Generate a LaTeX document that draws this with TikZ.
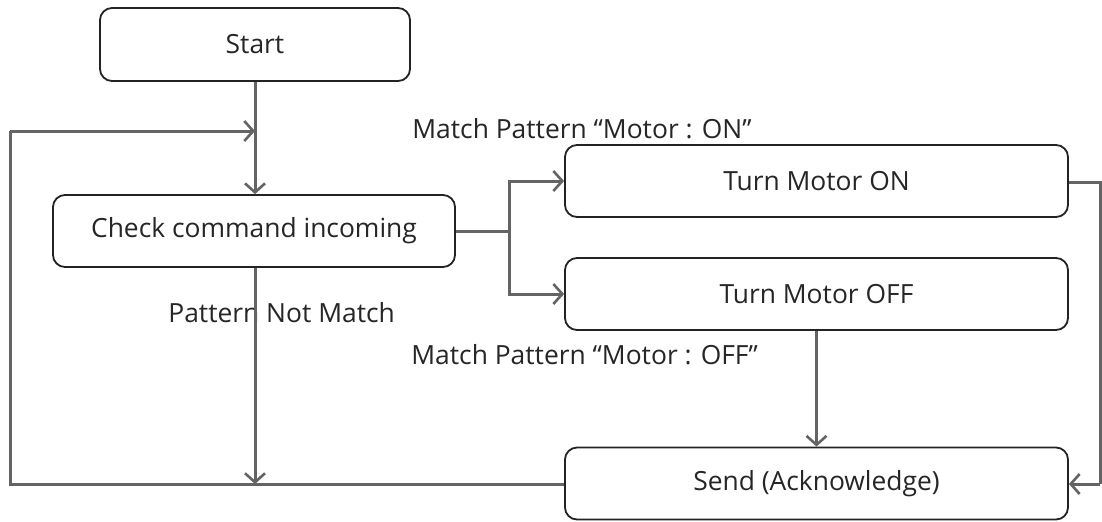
\documentclass[tikz,border=0pt]{standalone}
\usepackage{fontspec}
\setmainfont{Open Sans}
\usetikzlibrary{arrows.meta}
\definecolor{linegray}{RGB}{100,100,100}
\definecolor{boxline}{RGB}{35,35,35}
\begin{document}
\begin{tikzpicture}[x=0.5pt,y=-0.5pt,
  box/.style={draw=boxline,line width=0.9pt,rounded corners=6pt,inner sep=0pt,
    font=\fontsize{13.2pt}{15pt}\selectfont,text=black!85},
  lbl/.style={inner sep=0pt,font=\fontsize{13.2pt}{15pt}\selectfont,text=black!85},
  conn/.style={draw=linegray,line width=1.5pt},
  arr/.style={conn,-{Straight Barb[length=4.5pt,width=10pt,line width=1.3pt]}}]
\useasboundingbox (0,0) rectangle (1102,521);
\fill[white] (0,0) rectangle (1102,521);
% boxes
\node[box,minimum width=155pt,minimum height=36.5pt] (start) at (255,44.5) {Start};
\node[box,minimum width=201pt,minimum height=36pt] (check) at (254,231) {Check command incoming};
\node[box,minimum width=251.5pt,minimum height=36pt] (on) at (816.5,181) {Turn Motor ON};
\node[box,minimum width=251.5pt,minimum height=36pt] (off) at (816.5,294) {Turn Motor OFF};
\node[box,minimum width=251.5pt,minimum height=36pt] (send) at (816.5,483.5) {Send (Acknowledge)};
% labels
\node[lbl,anchor=west] (lon) at (412,129) {Match Pattern “Motor : ON”};
\node[lbl,anchor=west] (lnm) at (168,313) {Pattern Not Match};
\node[lbl,anchor=west] (loff) at (411,355) {Match Pattern “Motor : OFF”};
% coordinates
\coordinate (merge) at (255,131);
\coordinate (jn) at (509,231);
\coordinate (bl) at (10,484);
\coordinate (tl) at (10,131);
\coordinate (bot) at (255,484);
\coordinate (rt) at (1100,182);
\coordinate (rb) at (1100,484);
% connectors
\draw[arr] (start.south -| merge) -- (check.north -| merge);
\draw[conn] (send.west |- bl) -- (bl) -- (tl);
\draw[arr] (tl) -- (merge);
\draw[arr] (check.south -| bot) -- (bot);
\draw[conn] (check.east |- jn) -- (jn);
\draw[arr] (jn) |- (on.west);
\draw[arr] (jn) |- (off.west);
\draw[conn] (on.east |- rt) -- (rt) -- (rb);
\draw[arr] (rb) -- (send.east |- rb);
\draw[arr] (off.south) -- (send.north -| off.south);
\end{tikzpicture}
\end{document}
